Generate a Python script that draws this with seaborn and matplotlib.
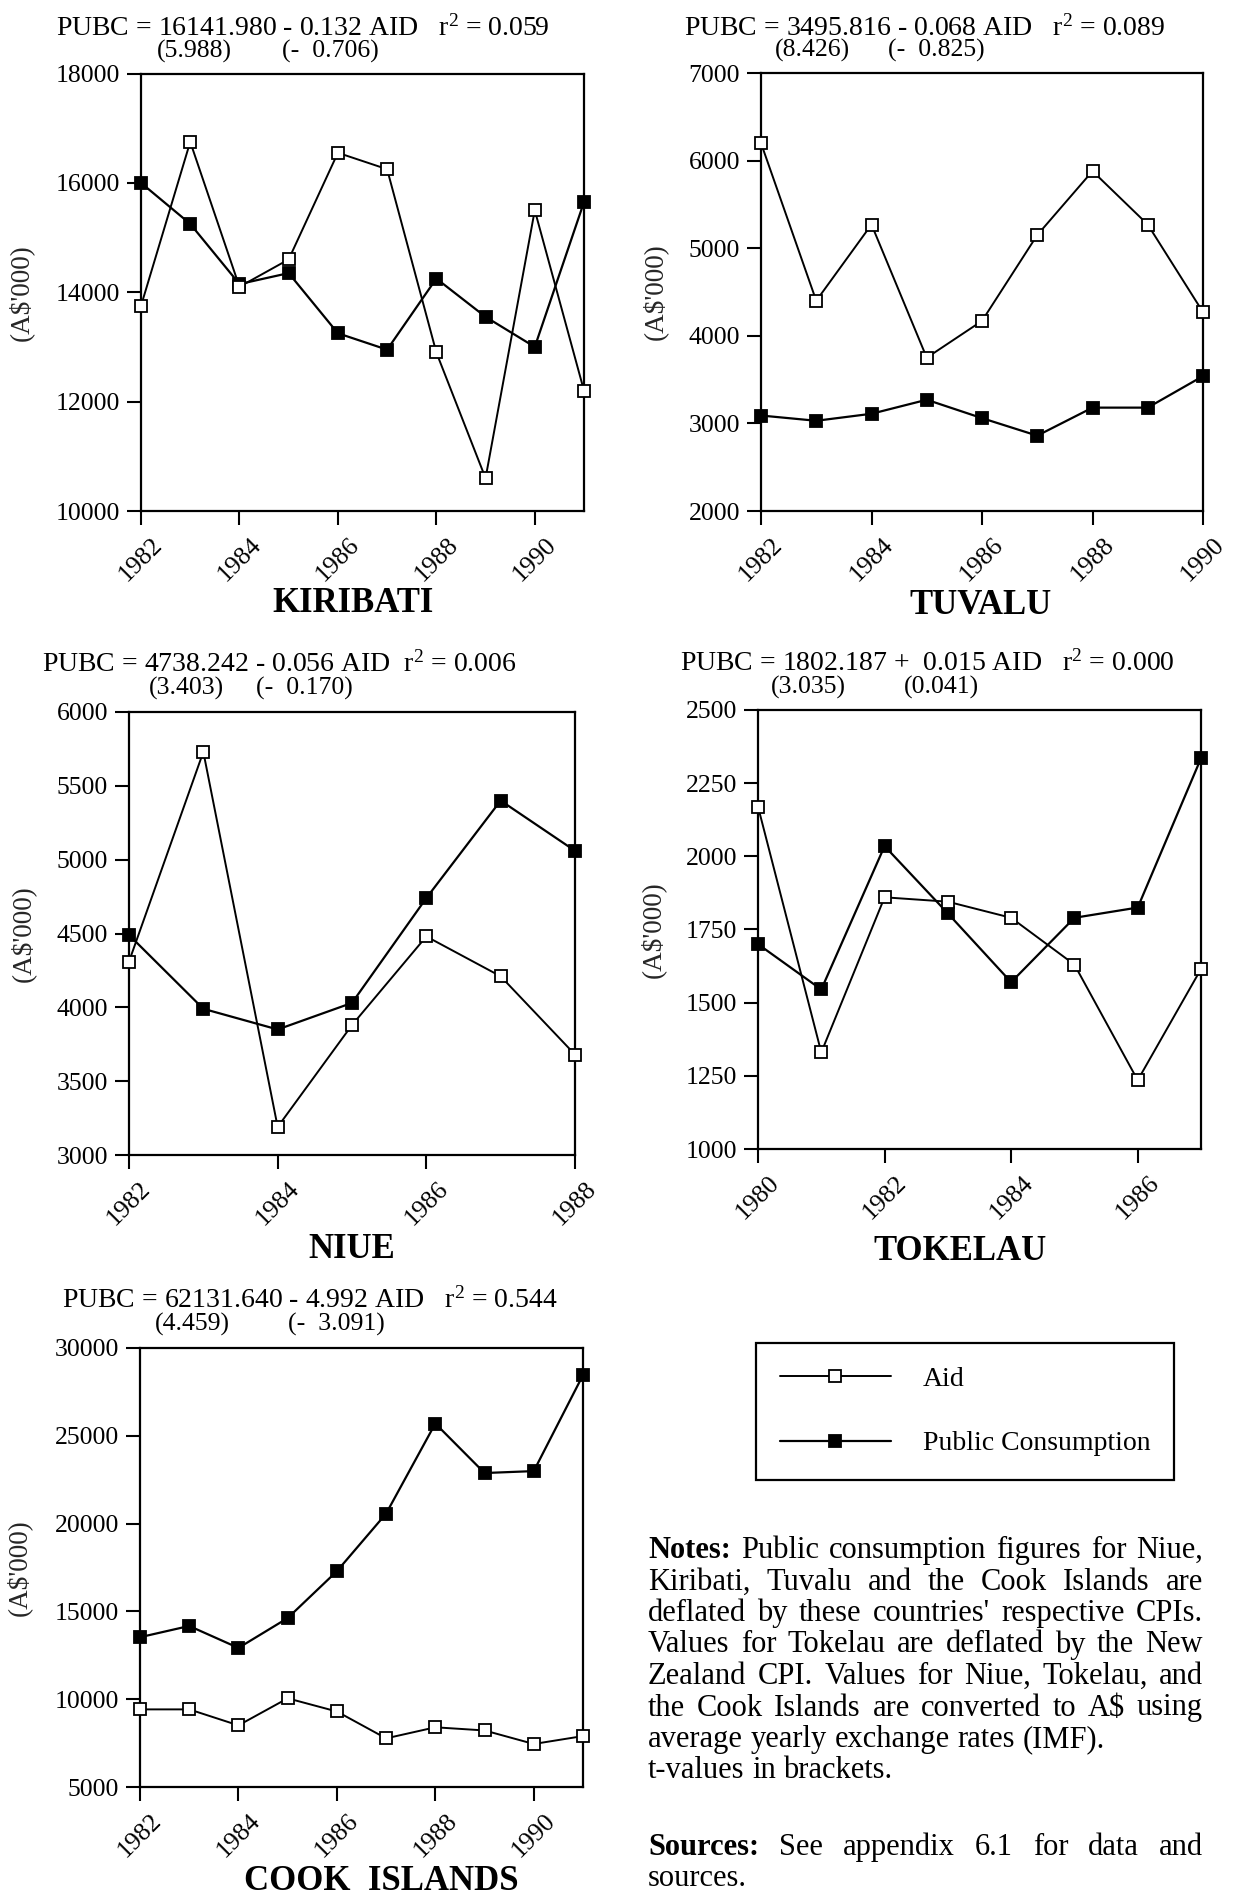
import matplotlib
matplotlib.use("Agg")
import matplotlib.pyplot as plt
import seaborn as sns
import numpy as np

# ---------------- data ----------------
kir_years = list(range(1982, 1992))
kir_aid = [13750, 16750, 14100, 14600, 16550, 16250, 12900, 10600, 15500, 12200]
kir_pubc = [16000, 15250, 14150, 14350, 13250, 12950, 14250, 13550, 13000, 15650]

tuv_years = list(range(1982, 1991))
tuv_aid = [6200, 4400, 5270, 3750, 4170, 5150, 5880, 5270, 4270]
tuv_pubc = [3090, 3030, 3110, 3270, 3060, 2860, 3180, 3180, 3540]

niu_years = list(range(1982, 1989))
niu_aid = [4310, 5730, 3190, 3880, 4480, 4210, 3680]
niu_pubc = [4490, 3990, 3850, 4030, 4740, 5400, 5060]

tok_years = list(range(1980, 1988))
tok_aid = [2170, 1330, 1860, 1845, 1790, 1630, 1235, 1615]
tok_pubc = [1700, 1545, 2035, 1805, 1570, 1790, 1825, 2335]

cook_years = list(range(1982, 1992))
cook_aid = [9420, 9420, 8510, 10050, 9300, 7770, 8400, 8220, 7450, 7900]
cook_pubc = [13530, 14170, 12920, 14620, 17290, 20570, 25700, 22880, 22990, 28460]

titles = ["KIRIBATI", "TUVALU", "NIUE", "TOKELAU", "COOK  ISLANDS"]
equations = [
    r"PUBC = 16141.980 - 0.132 AID   $\mathrm{r}^{2}$ = 0.059",
    r"PUBC = 3495.816 - 0.068 AID   $\mathrm{r}^{2}$ = 0.089",
    r"PUBC = 4738.242 - 0.056 AID  $\mathrm{r}^{2}$ = 0.006",
    r"PUBC = 1802.187 +  0.015 AID   $\mathrm{r}^{2}$ = 0.000",
    r"PUBC = 62131.640 - 4.992 AID   $\mathrm{r}^{2}$ = 0.544",
]
t_const = ["(5.988)", "(8.426)", "(3.403)", "(3.035)", "(4.459)"]
t_coef = ["(-  0.706)", "(-  0.825)", "(-  0.170)", "(0.041)", "(-  3.091)"]
legend_labels = ["Aid", "Public Consumption"]
ylabel = r"(A\$'000)"

notes_lines = [
    "Notes: Public consumption figures for Niue,",
    "Kiribati, Tuvalu and the Cook Islands are",
    "deflated by these countries' respective CPIs.",
    "Values for Tokelau are deflated by the New",
    "Zealand CPI. Values for Niue, Tokelau, and",
    "the Cook Islands are converted to A\\$ using",
    "average yearly exchange rates (IMF).",
    "t-values in brackets.",
]
sources_lines = ["Sources: See appendix 6.1 for data and", "sources."]

# ---------------- style ----------------
sns.set_style("ticks")
plt.rcParams["font.family"] = ["Liberation Serif", "DejaVu Serif"]
plt.rcParams["mathtext.fontset"] = "custom"
plt.rcParams["mathtext.rm"] = "Liberation Serif"
plt.rcParams["mathtext.it"] = "Liberation Serif:italic"
plt.rcParams["mathtext.bf"] = "Liberation Serif:bold"
plt.rcParams["text.color"] = "black"

W, H = 1244, 1895
fig = plt.figure(figsize=(W / 100, H / 100), dpi=100)
fig.patch.set_facecolor("white")


def fx(x):
    return x / W


def fy(y):
    return 1 - y / H


panels = [
    dict(years=kir_years, aid=kir_aid, pubc=kir_pubc, box=(141, 73.5, 584, 511),
         ylim=(10000, 18000), ystep=2000, xlim=(1982, 1991),
         eq=(56, 36), tc=(157, 282, 58), title=(353, 603), ylx=22),
    dict(years=tuv_years, aid=tuv_aid, pubc=tuv_pubc, box=(761, 73, 1203, 511),
         ylim=(2000, 7000), ystep=1000, xlim=(1982, 1990),
         eq=(684, 36), tc=(775, 888, 57), title=(981, 606), ylx=656),
    dict(years=niu_years, aid=niu_aid, pubc=niu_pubc, box=(129, 712, 575, 1155),
         ylim=(3000, 6000), ystep=500, xlim=(1982, 1988),
         eq=(42, 672), tc=(149, 256, 695), title=(352, 1249), ylx=24),
    dict(years=tok_years, aid=tok_aid, pubc=tok_pubc, box=(758, 710, 1201, 1149),
         ylim=(1000, 2500), ystep=250, xlim=(1980, 1987),
         eq=(680, 671), tc=(771, 904, 694), title=(960, 1252), ylx=654),
    dict(years=cook_years, aid=cook_aid, pubc=cook_pubc, box=(140, 1348, 583, 1787),
         ylim=(5000, 30000), ystep=5000, xlim=(1982, 1991),
         eq=(62, 1308), tc=(155, 288, 1331), title=(381, 1881), ylx=20),
]

handles = None
for i, p in enumerate(panels):
    l, t, r, b = p["box"]
    ax = fig.add_axes([fx(l), fy(b), (r - l) / W, (b - t) / H])
    ax.set_facecolor("white")
    sns.lineplot(x=p["years"], y=p["aid"], ax=ax, color="black", lw=1.4,
                 marker="s", markersize=8.5, markerfacecolor="white",
                 markeredgecolor="black", markeredgewidth=1.3,
                 clip_on=False, zorder=4)
    h_aid = ax.lines[-1]
    sns.lineplot(x=p["years"], y=p["pubc"], ax=ax, color="black", lw=1.6,
                 marker="s", markersize=8.5, markerfacecolor="black",
                 markeredgecolor="black", markeredgewidth=1.3,
                 clip_on=False, zorder=3)
    h_pubc = ax.lines[-1]
    if handles is None:
        handles = [h_aid, h_pubc]

    ax.set_xlim(*p["xlim"])
    ax.set_ylim(*p["ylim"])
    yt = np.arange(p["ylim"][0], p["ylim"][1] + 1, p["ystep"])
    ax.set_yticks(yt)
    ax.set_yticklabels([str(int(v)) for v in yt])
    xt = [y for y in range(p["xlim"][0], p["xlim"][1] + 1) if y % 2 == 0]
    ax.set_xticks(xt)
    ax.set_xticklabels([str(v) for v in xt], rotation=45, ha="center")
    ax.tick_params(axis="both", direction="out", length=10, width=1.5,
                   labelsize=18.5, colors="black")
    ax.tick_params(axis="y", pad=5)
    ax.tick_params(axis="x", pad=6)
    for s in ax.spines.values():
        s.set_visible(True)
        s.set_linewidth(1.6)
        s.set_color("black")
    ax.set_xlabel("")
    ax.set_ylabel(ylabel, fontsize=19.5)
    ax.yaxis.set_label_coords((p["ylx"] + 12 - l) / (r - l), 0.5)

    # equation and t-values
    ex, ey = p["eq"]
    fig.text(fx(ex), fy(ey), equations[i], fontsize=20, va="baseline", ha="left")
    c1, c2, cy = p["tc"]
    fig.text(fx(c1), fy(cy), t_const[i], fontsize=18.5, va="baseline", ha="left")
    fig.text(fx(c2), fy(cy), t_coef[i], fontsize=18.5, va="baseline", ha="left")
    # title
    tx, ty = p["title"]
    fig.text(fx(tx), fy(ty), titles[i], fontsize=25, fontweight="bold",
             ha="center", va="center")

# ---------------- legend ----------------
leg = fig.legend(handles=handles, labels=legend_labels, loc="upper left",
                 bbox_to_anchor=(fx(756), fy(1343)), bbox_transform=fig.transFigure,
                 frameon=True, fancybox=False, edgecolor="black", framealpha=1,
                 fontsize=20, handlelength=4.0, handletextpad=1.15,
                 borderpad=0.85, labelspacing=1.4, borderaxespad=0, numpoints=1)
leg.get_frame().set_linewidth(1.6)

# ---------------- notes (justified) ----------------
renderer = fig.canvas.get_renderer()
NOTE_SIZE = 22
X0, X1 = 648, 1203


def draw_line(text, baseline, justify, bold_first=False):
    words = text.split(" ")
    objs = []
    for k, w in enumerate(words):
        weight = "bold" if (bold_first and k == 0) else "normal"
        objs.append(fig.text(0, fy(baseline), w, fontsize=NOTE_SIZE,
                             fontweight=weight, va="baseline", ha="left"))
    widths = [o.get_window_extent(renderer).width for o in objs]
    if justify and len(words) > 1:
        gap = (X1 - X0 - sum(widths)) / (len(words) - 1)
    else:
        sp = fig.text(0, 0, "a a", fontsize=NOTE_SIZE)
        sp2 = fig.text(0, 0, "aa", fontsize=NOTE_SIZE)
        gap = sp.get_window_extent(renderer).width - sp2.get_window_extent(renderer).width
        sp.remove()
        sp2.remove()
    x = X0
    for o, wdt in zip(objs, widths):
        o.set_x(fx(x))
        x += wdt + gap


base = 1558
for k, line in enumerate(notes_lines):
    draw_line(line, base + 31.5 * k, justify=(k < 6), bold_first=(k == 0))

draw_line(sources_lines[0], 1855, justify=True, bold_first=True)
draw_line(sources_lines[1], 1886.5, justify=False)

fig.savefig("out.png", dpi=100, facecolor="white")
